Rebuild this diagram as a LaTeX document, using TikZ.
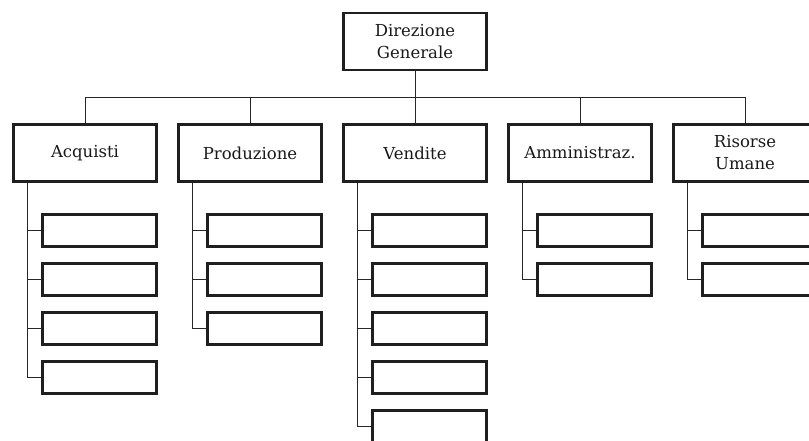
\documentclass[tikz,border=0pt]{standalone}
\usepackage{fontspec}
\setmainfont{DejaVu Serif}
\tikzset{
  unitbox/.style={draw=black!88, line width=2.8pt, minimum width=143pt, minimum height=57pt, align=center, inner sep=0pt, font=\fontsize{16.5}{22}\selectfont, text=black!90},
  subbox/.style={draw=black!88, line width=2.8pt, minimum width=114pt, minimum height=32pt, inner sep=0pt},
  link/.style={draw=black!85, line width=1pt}
}
\begin{document}
\begin{tikzpicture}[x=1pt, y=-1pt]
\useasboundingbox (0,0) rectangle (809,440);
\node[unitbox] (dg) at (415,41.5){Direzione\\Generale};
\node[unitbox] (acq) at (85,153){Acquisti};
\node[unitbox] (prod) at (250,153){Produzione};
\node[unitbox] (vend) at (415,153){Vendite};
\node[unitbox] (amm) at (580,153){Amministraz.};
\node[unitbox] (ris) at (745,153){Risorse\\Umane};
\coordinate (busl) at (85,97);
\coordinate (busr) at (745,97);
\draw[link](busl) -- (busr);
\draw[link](dg) -- (dg |- busl);
\draw[link](acq) -- (acq |- busl);
\draw[link](prod) -- (prod |- busl);
\draw[link](vend) -- (vend |- busl);
\draw[link](amm) -- (amm |- busl);
\draw[link](ris) -- (ris |- busl);
% acquisti
\node[subbox] (acq1) at (99.5,230.5){};
\node[subbox] (acq2) at (99.5,279.5){};
\node[subbox] (acq3) at (99.5,328.5){};
\node[subbox] (acq4) at (99.5,377.5){};
\draw[link]([xshift=15pt]acq.south west) |- (acq1);
\draw[link]([xshift=15pt]acq.south west) |- (acq2);
\draw[link]([xshift=15pt]acq.south west) |- (acq3);
\draw[link]([xshift=15pt]acq.south west) |- (acq4);
% produzione
\node[subbox] (prod1) at (264.5,230.5){};
\node[subbox] (prod2) at (264.5,279.5){};
\node[subbox] (prod3) at (264.5,328.5){};
\draw[link]([xshift=15pt]prod.south west) |- (prod1);
\draw[link]([xshift=15pt]prod.south west) |- (prod2);
\draw[link]([xshift=15pt]prod.south west) |- (prod3);
% vendite
\node[subbox] (vend1) at (429.5,230.5){};
\node[subbox] (vend2) at (429.5,279.5){};
\node[subbox] (vend3) at (429.5,328.5){};
\node[subbox] (vend4) at (429.5,377.5){};
\node[subbox] (vend5) at (429.5,426.5){};
\draw[link]([xshift=15pt]vend.south west) |- (vend1);
\draw[link]([xshift=15pt]vend.south west) |- (vend2);
\draw[link]([xshift=15pt]vend.south west) |- (vend3);
\draw[link]([xshift=15pt]vend.south west) |- (vend4);
\draw[link]([xshift=15pt]vend.south west) |- (vend5);
% amministrazione
\node[subbox] (amm1) at (594.5,230.5){};
\node[subbox] (amm2) at (594.5,279.5){};
\draw[link]([xshift=15pt]amm.south west) |- (amm1);
\draw[link]([xshift=15pt]amm.south west) |- (amm2);
% risorse umane
\node[subbox] (ris1) at (759.5,230.5){};
\node[subbox] (ris2) at (759.5,279.5){};
\draw[link]([xshift=15pt]ris.south west) |- (ris1);
\draw[link]([xshift=15pt]ris.south west) |- (ris2);
\end{tikzpicture}
\end{document}
